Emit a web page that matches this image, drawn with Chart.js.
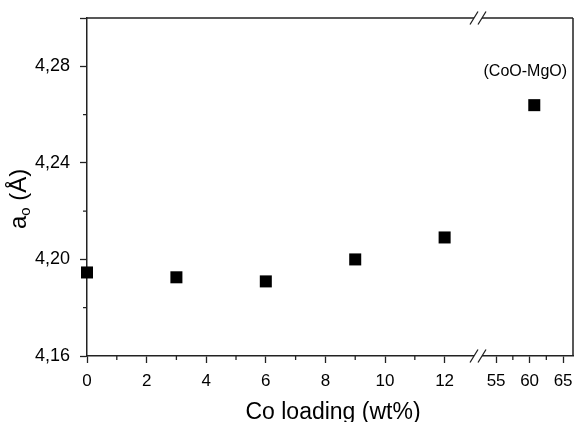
<!DOCTYPE html>
<html>
<head>
<meta charset="utf-8">
<script src="https://cdn.jsdelivr.net/npm/chart.js@4.4.0/dist/chart.umd.min.js"></script>
<style>
    html, body { margin: 0; padding: 0; background: #fff; }
    #wrap { width: 575px; height: 422px; }
</style>
</head>
<body>
<div id="wrap"><canvas id="chart"></canvas></div>
<script>
// Co loading (wt%) and lattice parameter, left of the axis break
const loadingLow = [0, 3, 6, 9, 12];
const latticeLow = [4.1946, 4.1926, 4.1909, 4.2000, 4.2091];
// mixed oxide, right of the break
const loadingHigh = [60.7];
const latticeHigh = [4.2639];
const highLabels = ['(CoO-MgO)'];

const xTicksLow = [0, 2, 4, 6, 8, 10, 12];
const xMinorLow = [1, 3, 5, 7, 9, 11];
const xTicksHigh = [55, 60, 65];
const xMinorHigh = [57.5, 62.5];
const yTicks = [4.16, 4.20, 4.24, 4.28, 4.30];
const yLabeled = [4.16, 4.20, 4.24, 4.28];
const yMinor = [4.18, 4.22, 4.26];

const FONT = 'Liberation Sans, Arial, sans-serif';
const INK = '#222';

function toPoints(xs, ys) {
    return xs.map((x, i) => ({ x: x, y: ys[i] }));
}

function fixTicks(arr) {
    return scale => { scale.ticks = arr.map(v => ({ value: v })); };
}

// fixed box sizes, no extra room for overhanging labels
function fitX(s) {
    s.height = 66;
    s.paddingLeft = 0;
    s.paddingRight = 0;
}

function fitY(s) {
    s.width = 87;
    s.paddingTop = 0;
    s.paddingBottom = 0;
}

function xScale(ticks, min, max, weight) {
    return {
        type: 'linear',
        axis: 'x',
        position: 'bottom',
        stack: 'bottom',
        stackWeight: weight,
        min: min,
        max: max,
        afterBuildTicks: fixTicks(ticks),
        afterFit: fitX,
        grid: { drawOnChartArea: false, drawTicks: true, tickLength: 7, tickWidth: 1.3, tickColor: INK },
        border: { display: true, color: INK, width: 1.5 },
        ticks: { color: '#000', font: { family: FONT, size: 17 }, padding: 8, autoSkip: false, maxRotation: 0 }
    };
}

// short minor ticks, top/right frame, axis breaks and titles
const decorations = {
    id: 'decorations',
    afterDraw(chart) {
        const ctx = chart.ctx;
        const a = chart.chartArea;
        const sx = chart.scales.x, sx2 = chart.scales.x2, sy = chart.scales.y;
        ctx.save();
        ctx.strokeStyle = INK;
        ctx.lineWidth = 1.3;
        ctx.beginPath();
        xMinorLow.forEach(v => { const p = sx.getPixelForValue(v); ctx.moveTo(p, a.bottom); ctx.lineTo(p, a.bottom + 4); });
        xMinorHigh.forEach(v => { const p = sx2.getPixelForValue(v); ctx.moveTo(p, a.bottom); ctx.lineTo(p, a.bottom + 4); });
        yMinor.forEach(v => { const p = sy.getPixelForValue(v); ctx.moveTo(a.left - 4, p); ctx.lineTo(a.left, p); });
        ctx.stroke();

        // frame
        ctx.lineWidth = 1.5;
        ctx.beginPath();
        ctx.moveTo(a.left, a.top);
        ctx.lineTo(a.right, a.top);
        ctx.moveTo(a.right, a.top);
        ctx.lineTo(a.right, a.bottom);
        ctx.stroke();

        // break marks on top and bottom
        const bx = sx.right;
        [a.top, a.bottom].forEach(by => {
            ctx.fillStyle = '#fff';
            ctx.fillRect(bx - 4, by - 2, 8, 4);
            ctx.beginPath();
            ctx.lineWidth = 1.3;
            ctx.moveTo(bx - 8, by + 6.5); ctx.lineTo(bx, by - 6.5);
            ctx.moveTo(bx, by + 6.5); ctx.lineTo(bx + 8, by - 6.5);
            ctx.stroke();
        });

        // point label
        const meta = chart.getDatasetMeta(1);
        ctx.fillStyle = '#000';
        ctx.font = '16px ' + FONT;
        ctx.textAlign = 'center';
        ctx.textBaseline = 'alphabetic';
        meta.data.forEach((pt, i) => ctx.fillText(highLabels[i], pt.x - 9, pt.y - 29));

        // x title
        ctx.font = '23px ' + FONT;
        ctx.fillText('Co loading (wt%)', (a.left + a.right) / 2 + 3, 419);

        // y title with subscript
        ctx.translate(26, 229);
        ctx.rotate(-Math.PI / 2);
        ctx.textAlign = 'left';
        ctx.font = '24px ' + FONT;
        ctx.fillText('a', 0, 0);
        let w = ctx.measureText('a').width;
        ctx.font = '15px ' + FONT;
        ctx.fillText('o', w, 4);
        w += ctx.measureText('o').width;
        ctx.font = '24px ' + FONT;
        ctx.fillText(' (Å)', w, 0);
        ctx.restore();
    }
};

const markerStyle = {
    showLine: false,
    pointStyle: 'rect',
    pointRadius: 8.5,
    pointHoverRadius: 8.5,
    borderWidth: 0,
    backgroundColor: '#000',
    borderColor: '#000',
    clip: false
};

new Chart(document.getElementById('chart'), {
    type: 'scatter',
    data: {
        datasets: [
            Object.assign({ data: toPoints(loadingLow, latticeLow), xAxisID: 'x', yAxisID: 'y' }, markerStyle),
            Object.assign({ data: toPoints(loadingHigh, latticeHigh), xAxisID: 'x2', yAxisID: 'y' }, markerStyle)
        ]
    },
    options: {
        responsive: true,
        maintainAspectRatio: false,
        animation: false,
        layout: { autoPadding: false, padding: { top: 18, right: 2, left: 0, bottom: 0 } },
        plugins: { legend: { display: false }, tooltip: { enabled: false } },
        scales: {
            x: xScale(xTicksLow, 0, 13.12, 391),
            x2: xScale(xTicksHigh, 52.3, 66.48, 95),
            y: {
                type: 'linear',
                position: 'left',
                min: 4.16,
                max: 4.30,
                afterBuildTicks: fixTicks(yTicks),
                afterFit: fitY,
                grid: { drawOnChartArea: false, drawTicks: true, tickLength: 7, tickWidth: 1.3, tickColor: INK },
                border: { display: true, color: INK, width: 1.5 },
                ticks: {
                    color: '#000',
                    font: { family: FONT, size: 18 },
                    padding: 10,
                    autoSkip: false,
                    callback: v => yLabeled.includes(v) ? v.toFixed(2).replace('.', ',') : ''
                }
            }
        }
    },
    plugins: [decorations]
});
</script>
</body>
</html>
